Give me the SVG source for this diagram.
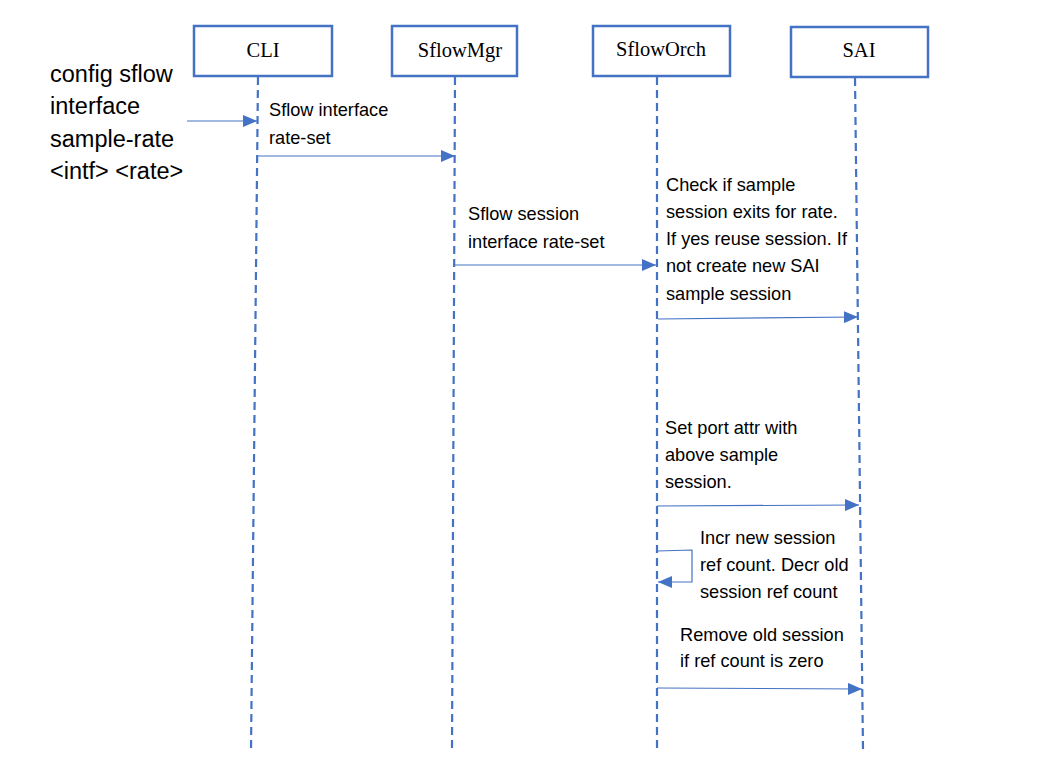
<svg xmlns="http://www.w3.org/2000/svg" width="1041" height="767" viewBox="0 0 1041 767">
<defs>
<style>
.box{fill:#fff;stroke:#4472C4;stroke-width:2.5}
.bl{font-family:"Liberation Serif",serif;font-size:20.5px;fill:#000;text-anchor:middle}
.life{stroke:#4472C4;stroke-width:2.2;stroke-dasharray:8,5;fill:none}
.msg{stroke:#4472C4;stroke-width:1.2;fill:none}
.t{font-family:"Liberation Sans",Arial,sans-serif;font-size:18.2px;fill:#000}
.big{font-family:"Liberation Sans",Arial,sans-serif;font-size:23.5px;fill:#000}
</style>
<marker id="ah" markerWidth="14" markerHeight="12" refX="14" refY="6" orient="auto" markerUnits="userSpaceOnUse">
<path d="M0,0 L14,6 L0,12 Z" fill="#4472C4"/>
</marker>
</defs>
<rect width="1041" height="767" fill="#fff"/>
<g id="node-cli"><rect class="box" x="194" y="26" width="138" height="50"/><text class="bl" x="263" y="57">CLI</text></g>
<g id="node-sflowmgr"><rect class="box" x="392" y="26" width="125" height="50"/><text class="bl" x="460" y="57">SflowMgr</text></g>
<g id="node-sfloworch"><rect class="box" x="593" y="26" width="137" height="50"/><text class="bl" x="661" y="56">SflowOrch</text></g>
<g id="node-sai"><rect class="box" x="791" y="27" width="137" height="50"/><text class="bl" x="859" y="57">SAI</text></g>
<g id="lifelines">
<line class="life" x1="258" y1="77" x2="251" y2="750"/>
<line class="life" x1="455" y1="77" x2="452" y2="750"/>
<line class="life" x1="657" y1="77" x2="657" y2="752"/>
<line class="life" x1="855" y1="78" x2="863" y2="750"/>
</g>
<g id="connectors">
<line class="msg" x1="187" y1="121" x2="257" y2="121" marker-end="url(#ah)"/>
<line class="msg" x1="258" y1="156" x2="455" y2="156" marker-end="url(#ah)"/>
<line class="msg" x1="455" y1="265" x2="656" y2="265" marker-end="url(#ah)"/>
<line class="msg" x1="658" y1="319" x2="858" y2="317" marker-end="url(#ah)"/>
<line class="msg" x1="657" y1="506" x2="859" y2="505" marker-end="url(#ah)"/>
<polyline class="msg" points="657,551 692,550 692,582 658,582" marker-end="url(#ah)"/>
<line class="msg" x1="657" y1="688" x2="862" y2="689" marker-end="url(#ah)"/>
</g>
<g id="labels">
<text class="big" x="50" y="82">config sflow</text>
<text class="big" x="50" y="114">interface</text>
<text class="big" x="50" y="147">sample-rate</text>
<text class="big" x="50" y="179">&lt;intf&gt; &lt;rate&gt;</text>
<text class="t" x="269" y="116">Sflow interface</text>
<text class="t" x="269" y="144">rate-set</text>
<text class="t" x="468" y="220">Sflow session</text>
<text class="t" x="468" y="248">interface rate-set</text>
<text class="t" x="666" y="191">Check if sample</text>
<text class="t" x="666" y="218">session exits for rate.</text>
<text class="t" x="666" y="245">If yes reuse session. If</text>
<text class="t" x="666" y="272">not create new SAI</text>
<text class="t" x="666" y="300">sample session</text>
<text class="t" x="665" y="434">Set port attr with</text>
<text class="t" x="665" y="461">above sample</text>
<text class="t" x="665" y="488">session.</text>
<text class="t" x="700" y="544">Incr new session</text>
<text class="t" x="700" y="571">ref count. Decr old</text>
<text class="t" x="700" y="598">session ref count</text>
<text class="t" x="680" y="641">Remove old session</text>
<text class="t" x="680" y="667">if ref count is zero</text>
</g>
</svg>
